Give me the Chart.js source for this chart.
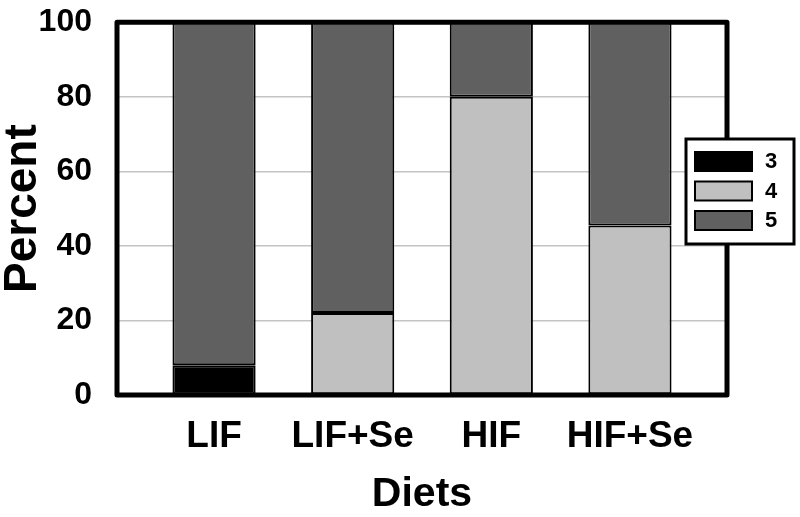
<!DOCTYPE html>
<html>
<head>
<meta charset="UTF-8">
<title>Percent by diet</title>
<script src="https://cdn.jsdelivr.net/npm/chart.js@4.4.1/dist/chart.umd.min.js"></script>
<style>
    body { margin: 0; background: #fff; }
    canvas { display: block; }
</style>
</head>
<body>
<canvas id="myChart" width="800" height="517"></canvas>
<script>
    // data (null = no segment)
    const categories = ['LIF', 'LIF+Se', 'HIF', 'HIF+Se'];
    const seriesNames = ['3', '4', '5'];
    const series3 = [8, null, null, null];
    const series4 = [null, 22, 80, 45.5];
    const series5 = [92, 78, 20, 54.5];
    const yTicks = [0, 20, 40, 60, 80, 100];

    const colors = ['#000000', '#c0c0c0', '#606060'];
    const FONT = '"Liberation Sans", Arial, sans-serif';

    function toPoints(arr) {
        return arr.map((v, i) => ({ x: i + 1, y: v }));
    }

    // thick black box round the plot
    const framePlugin = {
        id: 'frame',
        afterDatasetsDraw(chart) {
            const a = chart.chartArea;
            const ctx = chart.ctx;
            ctx.save();
            ctx.strokeStyle = '#000';
            ctx.lineWidth = 5;
            ctx.lineJoin = 'round';
            ctx.strokeRect(a.left, a.top, a.right - a.left, a.bottom - a.top);
            ctx.restore();
        }
    };

    // boxed legend sitting over the right edge of the plot
    const boxLegend = {
        id: 'boxLegend',
        afterDraw(chart) {
            const ctx = chart.ctx;
            const x0 = 686, y0 = 139, w = 108, h = 105;
            ctx.save();
            ctx.fillStyle = '#fff';
            ctx.fillRect(x0, y0, w, h);
            ctx.strokeStyle = '#000';
            ctx.lineWidth = 3;
            ctx.strokeRect(x0, y0, w, h);
            ctx.font = 'bold 22px ' + FONT;
            ctx.textBaseline = 'middle';
            chart.data.datasets.forEach((ds, i) => {
                const sy = 152 + i * 29.5;
                ctx.fillStyle = ds.backgroundColor;
                ctx.fillRect(695, sy, 57, 19);
                ctx.lineWidth = 2;
                ctx.strokeRect(695, sy, 57, 19);
                ctx.fillStyle = '#000';
                ctx.fillText(ds.label, 765, sy + 10);
            });
            ctx.restore();
        }
    };

    const ctx = document.getElementById('myChart');
    new Chart(ctx, {
        type: 'bar',
        data: {
            datasets: [series3, series4, series5].map((arr, i) => ({
                label: seriesNames[i],
                data: toPoints(arr),
                backgroundColor: colors[i],
                borderColor: '#000',
                borderWidth: 2,
                borderSkipped: false,
                barPercentage: 0.6,
                categoryPercentage: 1.0
            }))
        },
        options: {
            responsive: false,
            animation: false,
            layout: { padding: { top: 0, right: 73, left: 0, bottom: 0 } },
            plugins: {
                legend: { display: false },
                tooltip: { enabled: false }
            },
            scales: {
                x: {
                    type: 'linear',
                    stacked: true,
                    offset: false,
                    min: 0.3,
                    max: 4.7,
                    grid: { display: false, drawTicks: false, offset: false },
                    border: { display: false },
                    afterBuildTicks: function (scale) {
                        scale.ticks = categories.map((c, i) => ({ value: i + 1 }));
                    },
                    afterFit: function (scale) { scale.height = 122; },
                    ticks: {
                        padding: 20,
                        color: '#000',
                        font: { family: FONT, size: 37, weight: 'bold' },
                        callback: function (value) { return categories[value - 1]; }
                    },
                    title: {
                        display: true,
                        text: 'Diets',
                        color: '#000',
                        padding: { top: 0, bottom: 0 },
                        font: { family: FONT, size: 41, weight: 'bold', lineHeight: 1.1 }
                    }
                },
                y: {
                    stacked: true,
                    min: 0,
                    max: 100,
                    afterBuildTicks: function (scale) {
                        scale.ticks = yTicks.map(v => ({ value: v }));
                    },
                    afterFit: function (scale) { scale.width = 117; },
                    grid: {
                        color: '#c4c4c4',
                        lineWidth: 1.5,
                        drawTicks: true,
                        tickLength: 22,
                        tickColor: 'rgba(0,0,0,0)'
                    },
                    border: { display: false },
                    ticks: {
                        padding: 3,
                        color: '#000',
                        font: { family: FONT, size: 32, weight: 'bold' }
                    },
                    title: {
                        display: true,
                        text: 'Percent',
                        color: '#000',
                        padding: 0,
                        font: { family: FONT, size: 46, weight: 'bold', lineHeight: 1 }
                    }
                }
            }
        },
        plugins: [framePlugin, boxLegend]
    });
</script>
</body>
</html>
